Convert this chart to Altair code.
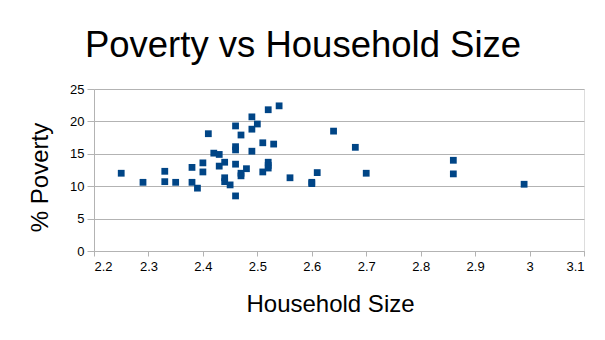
import altair as alt
import pandas as pd

household_size = [
    2.25, 2.29, 2.33, 2.33, 2.35, 2.38, 2.38, 2.39, 2.40, 2.40,
    2.41, 2.42, 2.43, 2.43, 2.44, 2.44, 2.44, 2.45, 2.46, 2.46,
    2.46, 2.46, 2.46, 2.47, 2.47, 2.47, 2.48, 2.49, 2.49, 2.49,
    2.50, 2.51, 2.51, 2.52, 2.52, 2.52, 2.52, 2.53, 2.54, 2.56,
    2.60, 2.60, 2.61, 2.64, 2.68, 2.70, 2.86, 2.86, 2.99,
]
poverty_pct = [
    12.0, 10.6, 12.3, 10.7, 10.6, 12.9, 10.6, 9.7, 13.6, 12.2,
    18.1, 15.1, 14.9, 13.1, 13.7, 11.3, 10.7, 10.2, 19.3, 16.1,
    15.6, 13.4, 8.5, 17.9, 12.0, 11.6, 12.7, 20.7, 18.8, 15.4,
    19.6, 16.7, 12.2, 21.8, 13.7, 13.2, 12.8, 16.5, 22.4, 11.3,
    10.6, 10.4, 12.1, 18.5, 16.0, 12.0, 14.0, 11.9, 10.3,
]
x_ticks = [2.2, 2.3, 2.4, 2.5, 2.6, 2.7, 2.8, 2.9, 3.0, 3.1]
y_ticks = [0, 5, 10, 15, 20, 25]

df = pd.DataFrame({"household_size": household_size, "poverty": poverty_pct})

FONT = "Liberation Sans"
GRID = "#b3b3b3"

chart = (
    alt.Chart(df)
    .mark_square(size=46, color="#004586", opacity=1)
    .encode(
        x=alt.X(
            "household_size:Q",
            scale=alt.Scale(domain=[2.2, 3.1], nice=False, zero=False),
            axis=alt.Axis(
                values=x_ticks,
                format=".1~f",
                grid=False,
                title="Household Size",
                titleX=236,
                titleY=60,
                titleAlign="center",
                titleBaseline="alphabetic",
                titleFontSize=24,
                titleFontWeight="normal",
                titleFont=FONT,
                titleColor="#000000",
                labelFont=FONT,
                labelFontSize=13,
                labelColor="#000000",
                labelPadding=4,
                tickSize=5,
                tickColor=GRID,
                domainColor=GRID,
            ),
        ),
        y=alt.Y(
            "poverty:Q",
            scale=alt.Scale(domain=[0, 25], nice=False),
            axis=alt.Axis(
                values=y_ticks,
                grid=True,
                gridColor=GRID,
                title="% Poverty",
                titleX=-47,
                titleY=88,
                titleAngle=270,
                titleAlign="center",
                titleBaseline="alphabetic",
                titleFontSize=24,
                titleFontWeight="normal",
                titleFont=FONT,
                titleColor="#000000",
                labelFont=FONT,
                labelFontSize=13,
                labelColor="#000000",
                labelPadding=3,
                tickSize=7,
                tickColor=GRID,
                domainColor=GRID,
            ),
        ),
    )
    .properties(
        width=490,
        height=162,
        autosize="none",
        padding={"left": 94, "top": 89, "right": 21, "bottom": 89},
        title=alt.TitleParams(
            "Poverty vs Household Size",
            font=FONT,
            fontSize=36.5,
            fontWeight="normal",
            color="#000000",
            anchor="middle",
            frame="group",
            baseline="alphabetic",
            dx=-36,
            dy=32,
            offset=22,
        ),
    )
    .configure_view(stroke=GRID, strokeWidth=1)
    .configure(background="#ffffff")
)

chart.save("out.html", embed_options={"renderer": "svg", "actions": False})
